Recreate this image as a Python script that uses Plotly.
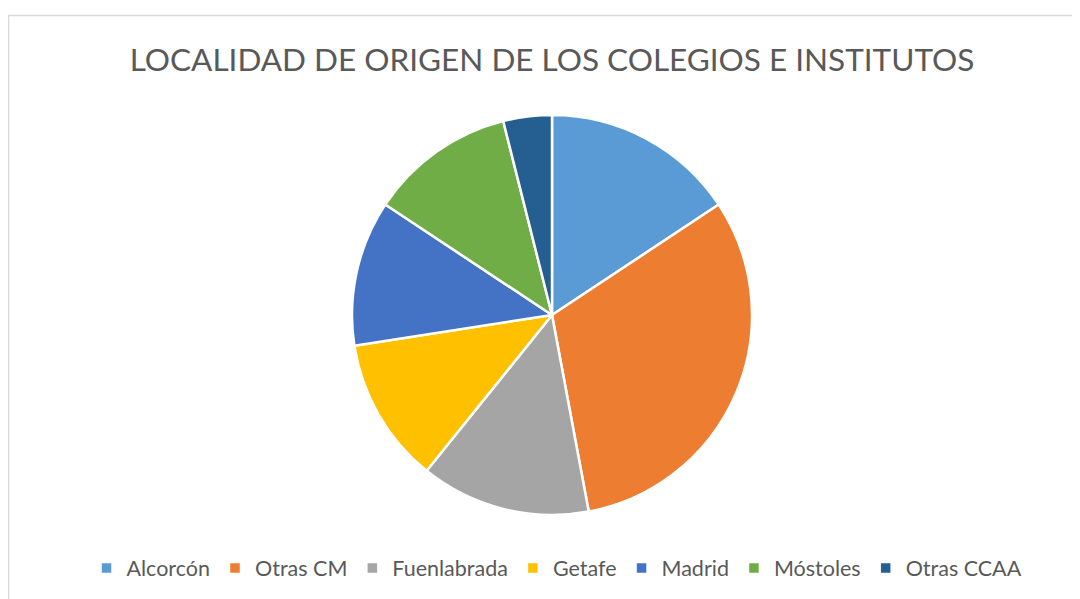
import plotly.graph_objects as go

categories = ["Alcorcón", "Otras CM", "Fuenlabrada", "Getafe", "Madrid", "Móstoles", "Otras CCAA"]
values = [8, 16, 7, 6, 6, 6, 2]
colors = ["#5B9BD5", "#ED7D31", "#A5A5A5", "#FFC000", "#4472C4", "#70AD47", "#255E91"]
title_text = "LOCALIDAD DE ORIGEN DE LOS COLEGIOS E INSTITUTOS"

W, H = 1080, 599
OFF = 8  # page body margin offset


def px_x(x):
    return (x - OFF) / W


def px_y(y):
    return 1 - (y - OFF) / H


fig = go.Figure(go.Pie(
    labels=categories,
    values=values,
    sort=False,
    direction="clockwise",
    rotation=0,
    marker=dict(colors=colors, line=dict(color="white", width=2.5)),
    textinfo="none",
    hoverinfo="label+value+percent",
    domain=dict(x=[px_x(352), px_x(752)], y=[px_y(515), px_y(115)]),
))

fig.update_layout(
    width=W, height=H,
    margin=dict(l=0, r=0, t=0, b=0),
    paper_bgcolor="white",
    plot_bgcolor="white",
    title=dict(
        text=title_text,
        x=px_x(552), xanchor="center",
        y=px_y(60), yanchor="middle",
        font=dict(family="Lato", size=31.5, color="#595959"),
    ),
    legend=dict(
        orientation="h",
        x=px_x(557), xanchor="center",
        y=px_y(568), yanchor="middle",
        font=dict(family="Lato", size=21.5, color="#595959"),
        itemwidth=30,
        traceorder="normal",
    ),
    shapes=[dict(
        type="rect", xref="paper", yref="paper",
        x0=px_x(8.5), x1=1.05, y0=-0.05, y1=px_y(15.5),
        line=dict(color="#D9D9D9", width=1.5),
        fillcolor="rgba(0,0,0,0)",
        layer="below",
    )],
)

fig.write_html("out.html")
